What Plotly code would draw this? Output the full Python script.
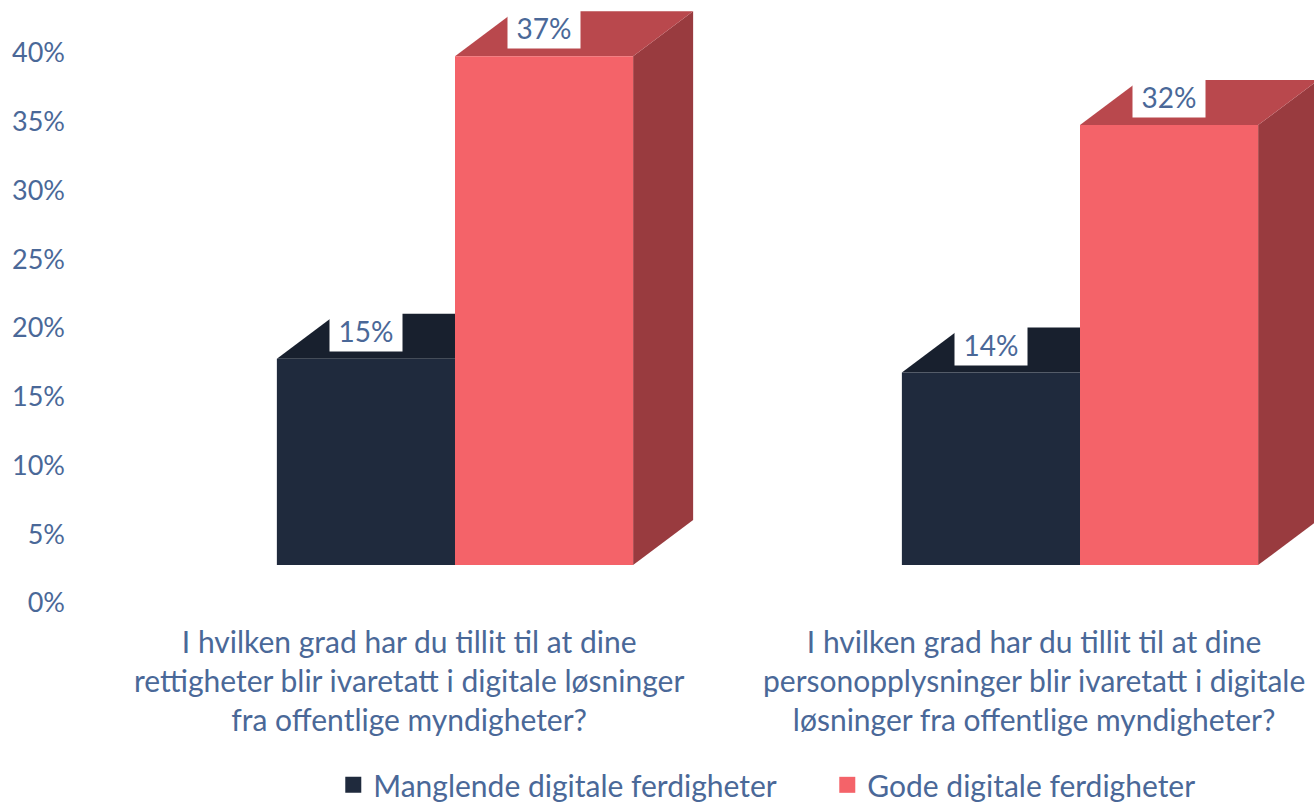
import plotly.graph_objects as go

# ---- data ----
categories = [
    "I hvilken grad har du tillit til at dine<br>rettigheter blir ivaretatt i digitale løsninger<br>fra offentlige myndigheter?",
    "I hvilken grad har du tillit til at dine<br>personopplysninger blir ivaretatt i digitale<br>løsninger fra offentlige myndigheter?",
]
series_names = ["Manglende digitale ferdigheter", "Gode digitale ferdigheter"]
manglende = [15, 14]
gode = [37, 32]
y_ticks = [0, 5, 10, 15, 20, 25, 30, 35, 40]
y_tick_labels = [f"{t}%" for t in y_ticks]

# ---- style ----
FONT = "Lato"
TEXT = "#4A6898"
FRONT = ["#1F2A3D", "#F46369"]
TOP = ["#18202E", "#B9484D"]
SIDE = ["#151C29", "#993B3F"]

W = 0.285        # bar width (category units)
DX = 0.096       # 3D depth, x
DY = 3.27        # 3D depth, y (in % units)
BASE = 2.76      # floor offset of the front faces
LAB = 2.04       # label offset above bar front top

fig = go.Figure()

series = [manglende, gode]
for ci in range(len(categories)):
    for si, vals in enumerate(series):
        v = vals[ci]
        x0 = ci - W if si == 0 else ci
        x1 = x0 + W
        b = BASE
        t = BASE + v
        polys = [
            ([x1, x1 + DX, x1 + DX, x1, x1], [b, b + DY, t + DY, t, b], SIDE[si]),
            ([x0, x1, x1 + DX, x0 + DX, x0], [t, t, t + DY, t + DY, t], TOP[si]),
            ([x0, x1, x1, x0, x0], [b, b, t, t, b], FRONT[si]),
        ]
        for xs, ys, col in polys:
            fig.add_trace(go.Scatter(
                x=xs, y=ys, mode="lines", fill="toself", fillcolor=col,
                line=dict(width=0, color=col), hoverinfo="skip", showlegend=False,
            ))
        fig.add_annotation(
            x=(x0 + x1) / 2, y=t + LAB, xref="x", yref="y", text=f"{v}%",
            showarrow=False, bgcolor="white", width=70, height=38,
            font=dict(family=FONT, size=28, color=TEXT),
        )

# category labels
for ci, cat in enumerate(categories):
    fig.add_annotation(
        x=ci - 0.073, y=-0.002, xref="x", yref="paper", yanchor="top",
        text=cat, showarrow=False, align="center",
        font=dict(family=FONT, size=30, color=TEXT),
    )

# legend entries
for si, name in enumerate(series_names):
    fig.add_trace(go.Scatter(
        x=[None], y=[None], mode="markers", name=name,
        marker=dict(symbol="square", size=16, color=FRONT[si]),
    ))

fig.update_layout(
    width=1314, height=802,
    margin=dict(l=66, r=0, t=5, b=182, autoexpand=False),
    paper_bgcolor="white", plot_bgcolor="white",
    font=dict(family=FONT, color=TEXT),
    xaxis=dict(visible=False, range=[-0.6224, 1.3744], fixedrange=True),
    yaxis=dict(
        range=[-1.236, 43.49], tickvals=y_ticks, ticktext=y_tick_labels,
        showgrid=False, zeroline=False, showline=False, ticks="",
        tickfont=dict(family=FONT, size=27, color=TEXT), ticklabelstandoff=0,
        fixedrange=True,
    ),
    legend=dict(
        orientation="h", x=0.61, xanchor="center", y=-0.268, yanchor="middle",
        font=dict(family=FONT, size=30, color=TEXT), itemwidth=30,
        entrywidth=449,
    ),
    showlegend=True,
)

fig.write_html(
    "out.html",
    config={"displayModeBar": False},
    post_script="document.body.style.margin='0px';",
)
